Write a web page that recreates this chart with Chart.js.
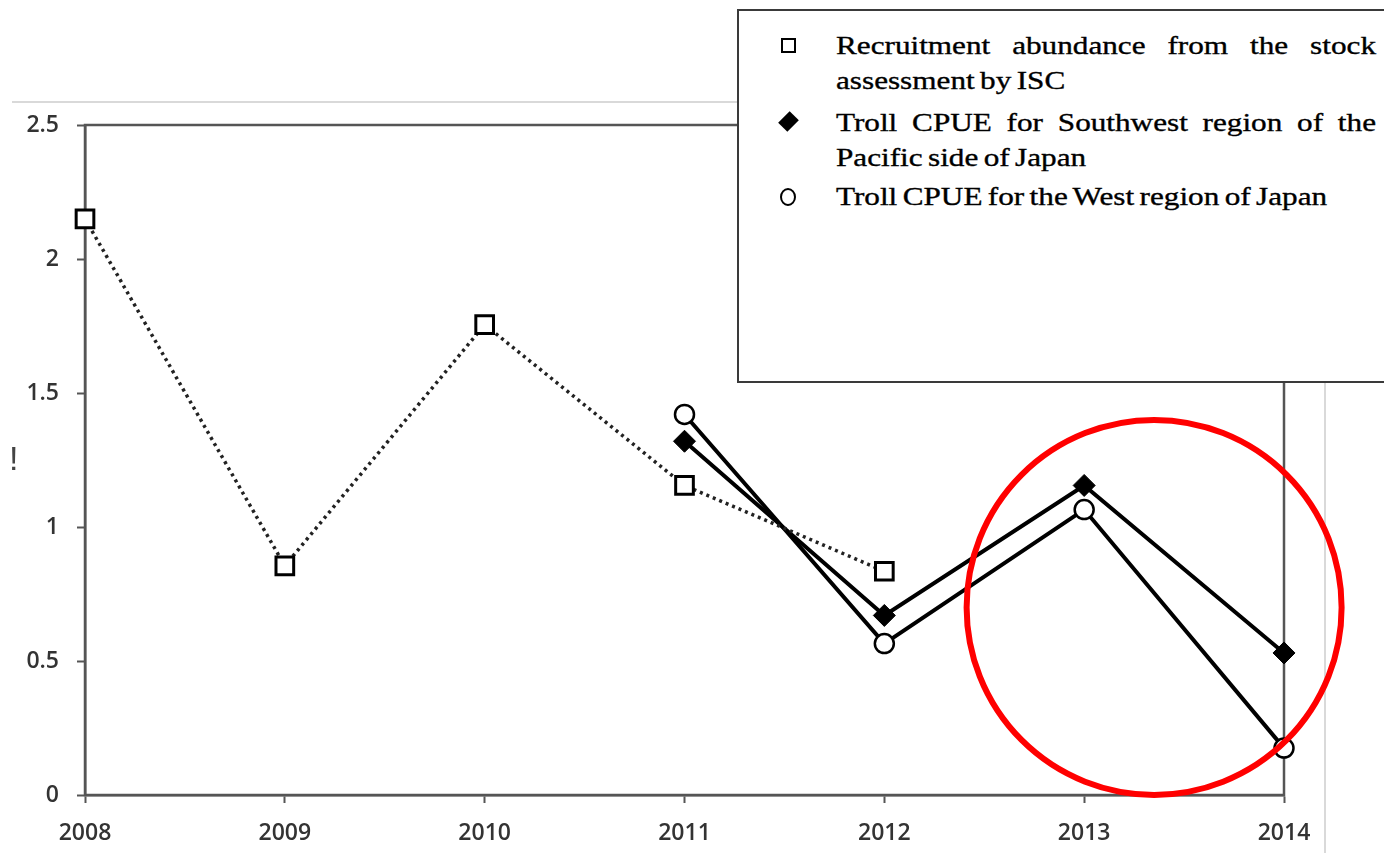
<!DOCTYPE html>
<html>
<head>
<meta charset="utf-8">
<script src="https://cdn.jsdelivr.net/npm/chart.js@4.4.1/dist/chart.umd.min.js"></script>
<style>
  html, body { margin:0; padding:0; background:#fff; }
  #wrap { position:relative; width:1384px; height:853px; overflow:hidden; }
  canvas { position:absolute; left:0; top:0; }
  #legend { position:absolute; left:737px; top:9px; width:700px; height:374px; border:2px solid #3a3a3a; background:#fff; box-sizing:border-box; }
  .ln { position:absolute; left:97px; width:450px; font-family:"Liberation Serif", serif; font-size:26px; line-height:36px; color:#000; white-space:nowrap; transform:scaleX(1.2); transform-origin:0 50%; -webkit-text-stroke:0.35px #000; word-spacing:-2px; }
  .just { text-align:justify; text-align-last:justify; white-space:normal; word-spacing:0; }
  .mk { position:absolute; box-sizing:border-box; }
  #excl { position:absolute; left:9px; top:438px; font-family:"Liberation Sans", sans-serif; font-size:34px; line-height:40px; color:#444; }
</style>
</head>
<body>
<div id="wrap">
  <canvas id="c" width="1384" height="853"></canvas>
  <div id="excl">!</div>
  <div id="legend">
    <div class="mk" style="left:42px;top:27px;width:15px;height:15px;border:2px solid #000;"></div>
    <div class="ln just" style="top:17px;">Recruitment abundance from the stock</div>
    <div class="ln" style="top:52px;">assessment by ISC</div>
    <div class="mk" style="left:43px;top:104px;width:13px;height:13px;background:#000;transform:rotate(45deg) scale(1.0,1.25);"></div>
    <div class="ln just" style="top:94px;">Troll CPUE for Southwest region of the</div>
    <div class="ln" style="top:129px;">Pacific side of Japan</div>
    <div class="mk" style="left:41px;top:177px;width:16px;height:18px;border:2px solid #000;border-radius:50%;"></div>
    <div class="ln" style="top:168px;">Troll CPUE for the West region of Japan</div>
  </div>
</div>
<script>
const years = ['2008','2009','2010','2011','2012','2013','2014'];
const recruitment = [2.15, 0.855, 1.755, 1.155, 0.835, null, null];
const trollSouthwest = [null, null, null, 1.32, 0.67, 1.155, 0.53];
const trollWest = [null, null, null, 1.42, 0.565, 1.065, 0.175];
const yTickValues = [0, 0.5, 1, 1.5, 2, 2.5];
const seriesNames = ['Recruitment abundance from the stock assessment by ISC',
  'Troll CPUE for Southwest region of the Pacific side of Japan',
  'Troll CPUE for the West region of Japan'];

const framePlugin = {
  id: 'frame',
  beforeDraw(chart) {
    const ctx = chart.ctx, a = chart.chartArea;
    ctx.save();
    ctx.strokeStyle = '#d9d9d9';
    ctx.lineWidth = 2;
    ctx.beginPath();
    ctx.moveTo(12, 102); ctx.lineTo(a.right + 41, 102);
    ctx.moveTo(a.right + 41, 102); ctx.lineTo(a.right + 41, 853);
    ctx.stroke();
    ctx.strokeStyle = '#555';
    ctx.lineWidth = 2.5;
    ctx.strokeRect(a.left, a.top, a.right - a.left, a.bottom - a.top);
    ctx.restore();
  },
  afterDraw(chart) {
    const ctx = chart.ctx, xs = chart.scales.x, ys = chart.scales.y;
    const cx = xs.getPixelForValue(5) + 0.35 * (xs.getPixelForValue(6) - xs.getPixelForValue(5));
    const cy = ys.getPixelForValue(0.70);
    ctx.save();
    ctx.strokeStyle = '#ff0000';
    ctx.lineWidth = 6;
    ctx.beginPath();
    ctx.arc(cx, cy, 187.5, 0, Math.PI * 2);
    ctx.stroke();
    ctx.restore();
  }
};

new Chart(document.getElementById('c'), {
  type: 'line',
  data: {
    labels: years,
    datasets: [
      { label: seriesNames[0], data: recruitment, borderColor: '#222', borderWidth: 3.5, borderDash: [3, 4],
        pointStyle: 'rect', pointRadius: 12.5, pointBackgroundColor: '#fff', pointBorderColor: '#000', pointBorderWidth: 3, spanGaps: false },
      { label: seriesNames[1], data: trollSouthwest, borderColor: '#000', borderWidth: 4,
        pointStyle: 'rectRot', pointRadius: 11, pointBackgroundColor: '#000', pointBorderColor: '#000', pointBorderWidth: 1 },
      { label: seriesNames[2], data: trollWest, borderColor: '#000', borderWidth: 4,
        pointStyle: 'circle', pointRadius: 9.5, pointBackgroundColor: '#fff', pointBorderColor: '#000', pointBorderWidth: 2.5 }
    ]
  },
  options: {
    responsive: false,
    animation: false,
    clip: false,
    layout: { padding: { top: 125, right: 100, left: 0, bottom: 0 } },
    plugins: { legend: { display: false }, tooltip: { enabled: false } },
    elements: { line: { tension: 0 } },
    scales: {
      x: {
        type: 'category', offset: false,
        grid: { display: true, drawOnChartArea: false, drawTicks: true, tickLength: 8, tickColor: '#555', tickWidth: 2 },
        border: { display: true, color: '#555', width: 2.5 },
        ticks: { color: '#333', font: { family: 'Open Sans', size: 23, weight: '600' }, padding: 17, maxRotation: 0, autoSkip: false },
        afterFit(s) { s.height = 58; }
      },
      y: {
        min: 0, max: 2.5,
        afterBuildTicks(s) { s.ticks = yTickValues.map(v => ({ value: v })); },
        grid: { display: true, drawOnChartArea: false, drawTicks: true, tickLength: 8, tickColor: '#555', tickWidth: 2 },
        border: { display: true, color: '#555', width: 2.5 },
        ticks: { color: '#333', font: { family: 'Open Sans', size: 23, weight: '600' }, padding: 18, callback: v => String(v) },
        afterFit(s) { s.width = 85; }
      }
    }
  },
  plugins: [framePlugin]
});
</script>
</body>
</html>
